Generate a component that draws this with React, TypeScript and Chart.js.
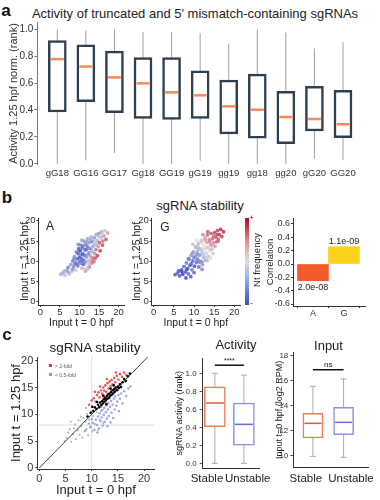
import React, { useEffect, useRef } from 'react';
import { Chart, registerables } from 'chart.js';
Chart.register(...registerables);

const FONT = "'Liberation Sans', Arial, Helvetica, sans-serif";
Chart.defaults.font.family = FONT;
Chart.defaults.color = '#333';

// ---------- Panel a: truncated / mismatch sgRNA activity ----------
const A_CATS = ['gG18', 'GG16', 'GG17', 'Gg18', 'GG19', 'gG19', 'gg19', 'gg18', 'gg20', 'gG20', 'GG20'];
const A_MIN = [0, 0.025, 0.08, 0, 0, 0.022, 0, 0, 0, 0.037, 0.03];
const A_Q1 = [0.385, 0.462, 0.38, 0.338, 0.33, 0.338, 0.222, 0.19, 0.15, 0.244, 0.195];
const A_MED = [0.778, 0.723, 0.642, 0.598, 0.531, 0.509, 0.427, 0.402, 0.348, 0.333, 0.294];
const A_Q3 = [0.916, 0.884, 0.837, 0.79, 0.79, 0.69, 0.622, 0.667, 0.538, 0.575, 0.546];
const A_MAX = [1.0, 0.993, 1.0, 0.978, 0.978, 0.97, 0.894, 1.0, 0.975, 0.857, 0.904];

// ---------- Panel b: scatter [input t=0, input t=1.25, nt-frequency score] ----------
const SCATTER_A: number[][] = [
  [5.2, 6.8, -0.3], [5.8, 7.2, -0.4], [6.3, 6.5, -0.2], [6.8, 7.8, -0.5], [7.1, 8.5, -0.6], [7.4, 6.9, -0.3],
  [7.8, 9.2, -0.5], [8.0, 7.5, -0.2], [8.3, 10.1, -0.7], [8.5, 8.6, -0.6], [8.7, 11.2, -0.5], [8.9, 9.4, -0.8],
  [9.1, 7.8, 0.1], [9.2, 12.3, -0.6], [9.4, 10.6, -0.9], [9.6, 8.9, -0.7], [9.8, 13.1, -0.9], [9.9, 11.6, -0.5],
  [10.1, 9.9, -0.85], [10.2, 12.6, -1.0], [10.3, 14.0, -0.6], [10.5, 10.8, -0.7], [10.6, 8.3, 0.2], [10.7, 13.3, -0.8],
  [10.9, 11.9, -0.6], [11.0, 9.3, -0.9], [11.1, 15.0, -0.5], [11.2, 10.4, -0.4], [11.4, 12.8, -0.7], [11.5, 7.6, 0.3],
  [11.6, 14.2, -0.6], [11.8, 11.1, -0.5], [11.9, 9.0, 0.0], [12.0, 13.6, -0.7], [12.1, 15.6, -0.4], [12.3, 10.2, -0.3],
  [12.4, 12.1, -0.6], [12.5, 8.5, 0.4], [12.6, 14.6, -0.5], [12.8, 11.4, -0.2], [12.9, 13.1, -0.6], [13.0, 16.0, -0.3],
  [13.1, 9.6, 0.5], [13.3, 12.4, -0.3], [13.4, 14.9, -0.7], [13.5, 10.8, 0.6], [13.6, 13.8, -0.4], [13.8, 15.8, -0.5],
  [13.9, 11.9, 0.4], [14.0, 14.3, -0.2], [14.2, 12.9, 0.5], [14.3, 16.6, -0.4], [14.5, 15.1, -0.3], [14.6, 11.4, 0.7],
  [14.8, 13.6, 0.3], [15.0, 16.9, -0.5], [15.1, 14.6, 0.6], [15.3, 12.6, 0.8], [15.5, 15.8, 0.2], [15.7, 17.3, -0.3],
  [15.9, 14.0, 0.7], [16.2, 16.3, 0.4], [16.5, 17.6, 0.1], [16.8, 15.4, 0.6], [17.2, 17.0, 0.3], [11.3, 8.1, -0.1],
  [10.4, 9.5, -0.6], [12.7, 9.3, 0.2], [9.0, 10.2, -0.4], [13.7, 9.9, 0.5],
  [9.6, 12.0, -0.8], [10.0, 10.9, -0.9], [10.8, 10.2, -0.8], [11.3, 11.5, -0.7], [11.7, 12.9, -0.8], [12.2, 11.7, -0.5],
  [12.5, 13.2, -0.6], [10.9, 13.8, -0.7], [11.9, 14.8, -0.5], [12.8, 15.3, -0.4], [13.2, 13.5, -0.3], [13.9, 14.9, -0.1],
  [14.4, 14.0, 0.2], [13.0, 11.0, 0.3], [12.1, 9.8, 0.1], [11.4, 9.8, -0.6], [10.7, 11.7, -0.9], [9.3, 9.4, -0.7],
  [8.2, 8.0, -0.5], [7.0, 7.4, -0.4], [6.2, 7.6, -0.3], [9.7, 14.2, -0.6], [10.6, 15.2, -0.4], [14.9, 16.2, -0.2],
  [15.8, 16.6, 0.1], [16.0, 15.0, 0.5], [14.1, 10.8, 0.6], [13.3, 10.2, 0.4], [12.0, 8.0, 0.2], [8.6, 10.6, -0.6],
];
const SCATTER_G: number[][] = [
  [5.3, 6.7, -0.9], [5.9, 7.1, -0.8], [6.4, 6.4, -0.9], [6.9, 7.9, -0.9], [7.2, 6.8, -1.0], [7.5, 8.7, -0.8],
  [7.9, 7.4, -0.9], [8.1, 9.6, -0.7], [8.4, 8.2, -1.0], [8.6, 6.9, -0.8], [8.8, 10.5, -0.6], [9.0, 9.0, -0.9],
  [9.3, 11.4, -0.5], [9.5, 7.9, -0.7], [9.7, 10.1, -0.8], [9.9, 12.4, -0.4], [10.1, 8.8, -0.9], [10.3, 11.2, -0.6],
  [10.4, 13.5, -0.3], [10.6, 9.7, -0.7], [10.8, 12.2, -0.4], [10.9, 10.5, -0.6], [11.1, 14.4, -0.2], [11.2, 8.6, -0.8],
  [11.4, 11.6, -0.4], [11.5, 13.1, -0.2], [11.7, 10.0, -0.6], [11.8, 15.2, 0.1], [12.0, 12.3, -0.2], [12.1, 9.2, -0.5],
  [12.3, 14.0, 0.0], [12.4, 11.0, -0.3], [12.6, 13.0, -0.1], [12.7, 15.8, 0.3], [12.9, 10.3, -0.4], [13.0, 12.0, -0.1],
  [13.2, 14.7, 0.3], [13.3, 16.5, 0.5], [13.5, 13.3, 0.1], [13.6, 11.2, -0.2], [13.8, 15.4, 0.4], [13.9, 12.6, 0.0],
  [14.1, 14.1, 0.3], [14.2, 16.9, 0.6], [14.4, 13.0, 0.2], [14.6, 15.6, 0.5], [14.7, 11.9, 0.1], [14.9, 14.6, 0.4],
  [15.1, 17.1, 0.7], [15.2, 13.7, 0.3], [15.4, 16.0, 0.6], [15.6, 14.8, 0.5], [15.8, 17.6, 0.7], [16.0, 15.5, 0.6],
  [16.3, 16.6, 0.7], [16.6, 17.9, 0.8], [16.9, 16.1, 0.7], [17.3, 17.3, 0.8], [9.2, 6.2, -0.9], [8.0, 5.9, -1.0],
  [10.0, 7.2, -0.8], [12.2, 16.6, 0.4], [11.0, 13.0, -0.3], [13.4, 17.3, 0.6],
  [9.6, 12.0, -0.5], [10.0, 10.9, -0.6], [10.8, 10.2, -0.6], [11.3, 11.5, -0.4], [11.7, 12.9, -0.2], [12.2, 11.7, -0.2],
  [12.5, 13.2, 0.0], [10.9, 13.8, -0.2], [11.9, 14.8, 0.1], [12.8, 15.3, 0.3], [13.2, 13.5, 0.1], [13.9, 14.9, 0.4],
  [14.4, 14.0, 0.3], [13.0, 11.0, -0.1], [12.1, 9.8, -0.4], [11.4, 9.8, -0.6], [10.7, 11.7, -0.5], [9.3, 9.4, -0.8],
  [8.2, 8.0, -0.9], [7.0, 7.4, -1.0], [6.2, 7.6, -0.9], [9.7, 14.2, -0.2], [10.6, 15.2, 0.0], [14.9, 16.2, 0.5],
  [15.8, 16.6, 0.7], [16.0, 15.0, 0.5], [14.1, 10.8, 0.0], [13.3, 10.2, -0.2], [12.0, 8.0, -0.6], [8.6, 10.6, -0.7],
];
const B_CATS = ['A', 'G'];
const B_CORR = [-0.25, 0.26];
const B_PVALS = ['2.0e-08', '1.1e-09'];

// ---------- Panel c: stability scatter ----------
const C_BLACK: number[][] = [
  [9.2, 9.6], [9.8, 10.3], [10.3, 10.6], [10.6, 11.3], [10.9, 11.0], [11.2, 11.8], [11.4, 11.3], [11.6, 12.2],
  [11.8, 11.7], [12.0, 12.5], [12.1, 12.0], [12.3, 12.8], [12.4, 12.3], [12.6, 13.1], [12.7, 12.6], [12.9, 13.4],
  [13.0, 12.9], [13.1, 13.7], [13.3, 13.1], [13.4, 13.9], [13.5, 13.4], [13.7, 14.2], [13.8, 13.6], [14.0, 14.5],
  [14.1, 13.9], [14.3, 14.7], [14.4, 14.2], [14.6, 15.0], [14.8, 14.5], [15.0, 15.2], [15.2, 14.9], [15.4, 15.6],
  [15.6, 15.1], [15.9, 16.0], [16.2, 16.6], [16.5, 16.2], [16.9, 17.1], [17.3, 17.6], [11.0, 12.3], [12.2, 13.5],
  [13.6, 14.8], [10.1, 11.4], [12.8, 11.9], [14.2, 15.4],
];
const C_RED: number[][] = [
  [9.5, 11.8], [10.0, 12.6], [10.4, 13.0], [10.8, 12.4], [11.0, 13.6], [11.3, 14.1], [11.5, 13.2], [11.8, 14.5],
  [12.0, 13.9], [12.2, 15.0], [12.4, 14.4], [12.6, 15.4], [12.8, 14.2], [13.0, 15.8], [13.2, 14.8], [13.4, 16.1],
  [13.6, 15.3], [13.8, 16.4], [14.0, 15.6], [14.3, 16.8], [14.5, 16.0], [14.8, 17.2], [15.1, 16.5], [15.4, 17.5],
  [15.8, 17.0], [16.2, 17.8], [16.6, 17.4], [11.6, 15.2], [12.9, 16.6], [10.6, 14.2], [14.6, 17.8], [12.3, 13.3],
];
const C_BLUE: number[][] = [
  [9.8, 7.6], [10.2, 8.4], [10.5, 7.1], [10.8, 9.0], [11.0, 8.0], [11.2, 9.6], [11.4, 7.4], [11.5, 10.2],
  [11.7, 8.7], [11.9, 9.4], [12.0, 10.8], [12.1, 7.9], [12.3, 9.9], [12.4, 11.2], [12.5, 8.6], [12.7, 10.4],
  [12.8, 11.7], [12.9, 9.2], [13.0, 7.8], [13.1, 10.9], [13.2, 12.1], [13.3, 9.7], [13.5, 11.4], [13.6, 8.5],
  [13.7, 12.5], [13.8, 10.3], [14.0, 11.8], [14.1, 9.3], [14.2, 12.9], [14.4, 10.9], [14.5, 13.3], [14.7, 11.6],
  [14.9, 12.4], [15.1, 13.6], [15.2, 10.6], [15.4, 12.9], [15.6, 13.9], [15.9, 12.0], [16.2, 14.3], [16.6, 13.4],
  [17.0, 14.8], [17.4, 15.2], [10.0, 9.1], [9.5, 8.3], [11.8, 11.4], [13.4, 13.0], [8.8, 7.0], [12.6, 13.0],
  [15.0, 14.5], [11.1, 6.6],
];
const C_GRAY: number[][] = [
  [5.2, 5.6], [5.8, 7.2], [6.1, 4.9], [6.4, 6.3], [6.8, 8.1], [7.0, 5.4], [7.3, 7.0], [7.5, 8.9], [7.7, 6.2],
  [8.0, 7.8], [8.2, 5.7], [8.4, 9.3], [8.6, 6.8], [8.8, 8.6], [9.0, 7.3], [9.1, 10.1], [9.3, 6.1], [9.5, 9.0],
  [9.7, 7.7], [9.9, 10.5], [10.1, 6.8], [10.3, 9.7], [10.6, 8.2], [10.9, 10.4], [11.2, 7.1], [11.5, 9.0],
  [11.8, 10.6], [7.9, 9.6], [6.6, 7.4], [8.9, 11.2], [5.5, 6.6], [12.2, 8.4], [4.8, 5.0], [6.0, 8.6],
];
const C_DIAG = [0, 22];
const C_REF_X = 10;
const C_REF_Y = 8;
const C_LEGEND = ['> 2-fold', '< 0.5-fold'];

// ---------- Panel c: box plots ----------
const GROUPS = ['Stable', 'Unstable'];
const ACT_MIN = [0.0, 0.0];
const ACT_Q1 = [0.407, 0.203];
const ACT_MED = [0.67, 0.433];
const ACT_Q3 = [0.851, 0.67];
const ACT_MAX = [1.0, 0.98];
const ACT_SIG = { value: 1.09, text: '****' };
const INP_MIN = [9.95, 9.87];
const INP_Q1 = [11.42, 11.68];
const INP_MED = [12.59, 12.67];
const INP_Q3 = [13.39, 13.87];
const INP_MAX = [15.55, 16.14];
const INP_SIG = { value: 16.88, text: 'ns' };

// ---------- helpers ----------
function coolwarm(v: number, a: number) {
  const lo = [59, 76, 192], mid = [221, 221, 221], hi = [180, 4, 38];
  const t = Math.max(-1, Math.min(1, v));
  const to = t < 0 ? lo : hi;
  const k = Math.abs(t);
  const c = mid.map((f, i) => Math.round(f + (to[i] - f) * k));
  return `rgba(${c[0]},${c[1]},${c[2]},${a})`;
}

const boxPlugin = {
  id: 'boxStats',
  beforeDatasetsDraw(chart: any) {
    const ds: any = chart.data.datasets[0];
    if (!ds || !ds.stats) return;
    const st = ds.stats;
    const meta = chart.getDatasetMeta(0);
    const ys = chart.scales.y;
    const ctx = chart.ctx;
    ctx.save();
    ctx.strokeStyle = st.whiskerColor;
    ctx.lineWidth = st.whiskerWidth;
    meta.data.forEach((bar: any, i: number) => {
      const x = bar.x;
      const y0 = ys.getPixelForValue(st.min[i]);
      const y1 = ys.getPixelForValue(st.max[i]);
      ctx.beginPath();
      ctx.moveTo(x, y0);
      ctx.lineTo(x, y1);
      if (st.capWidth) {
        ctx.moveTo(x - st.capWidth / 2, y0);
        ctx.lineTo(x + st.capWidth / 2, y0);
        ctx.moveTo(x - st.capWidth / 2, y1);
        ctx.lineTo(x + st.capWidth / 2, y1);
      }
      ctx.stroke();
    });
    ctx.restore();
  },
  afterDatasetsDraw(chart: any) {
    const ds: any = chart.data.datasets[0];
    if (!ds || !ds.stats) return;
    const st = ds.stats;
    const meta = chart.getDatasetMeta(0);
    const ys = chart.scales.y;
    const ctx = chart.ctx;
    ctx.save();
    meta.data.forEach((bar: any, i: number) => {
      const y = ys.getPixelForValue(st.med[i]);
      const inset = ds.borderWidth;
      ctx.strokeStyle = Array.isArray(st.medianColor) ? st.medianColor[i] : st.medianColor;
      ctx.lineWidth = st.medianWidth;
      ctx.beginPath();
      ctx.moveTo(bar.x - bar.width / 2 + inset, y);
      ctx.lineTo(bar.x + bar.width / 2 - inset, y);
      ctx.stroke();
    });
    if (st.sig && meta.data.length > 1) {
      const y = ys.getPixelForValue(st.sig.value);
      const x0 = meta.data[0].x, x1 = meta.data[1].x;
      ctx.strokeStyle = '#111';
      ctx.lineWidth = 1.5;
      ctx.beginPath();
      ctx.moveTo(x0, y);
      ctx.lineTo(x1, y);
      ctx.stroke();
      ctx.fillStyle = '#222';
      ctx.font = `${st.sigSize}px ${FONT}`;
      ctx.textAlign = 'center';
      ctx.textBaseline = 'bottom';
      ctx.fillText(st.sig.text, (x0 + x1) / 2, y - 1);
    }
    ctx.restore();
  },
};

const barLabelPlugin = {
  id: 'barLabels',
  afterDatasetsDraw(chart: any) {
    const ds: any = chart.data.datasets[0];
    if (!ds || !ds.valueLabels) return;
    const meta = chart.getDatasetMeta(0);
    const ctx = chart.ctx;
    ctx.save();
    ctx.font = `9px ${FONT}`;
    ctx.fillStyle = '#222';
    ctx.textAlign = 'center';
    meta.data.forEach((bar: any, i: number) => {
      const v = B_CORR[i];
      if (v < 0) {
        ctx.textBaseline = 'top';
        ctx.fillText(ds.valueLabels[i], bar.x, bar.y + 2);
      } else {
        ctx.textBaseline = 'bottom';
        ctx.fillText(ds.valueLabels[i], bar.x, bar.y - 1);
      }
    });
    ctx.restore();
  },
};

const tickGrid = (len: number, color = '#333') => ({
  display: true,
  drawOnChartArea: false,
  drawTicks: true,
  tickLength: len,
  color,
});

// ---------- chart configs ----------
function configA(): any {
  return {
    type: 'bar',
    data: {
      datasets: [
        {
          data: A_Q1.map((q1, i) => ({ x: i, y: [q1, A_Q3[i]] })),
          backgroundColor: '#ffffff',
          borderColor: '#2e3f52',
          borderWidth: 2.5,
          borderSkipped: false,
          barThickness: 18,
          stats: {
            min: A_MIN, max: A_MAX, med: A_MED,
            whiskerColor: '#a0a0a0', whiskerWidth: 1, capWidth: 0,
            medianColor: '#f28a5c', medianWidth: 2.5,
          },
        },
      ],
    },
    options: {
      animation: false,
      responsive: false,
      layout: { padding: { left: 0, right: 17, top: 22.5, bottom: 0 } },
      plugins: { legend: { display: false }, tooltip: { enabled: false } },
      scales: {
        x: {
          type: 'linear',
          offset: false,
          min: -0.7,
          max: 10.7,
          afterBuildTicks: (s: any) => { s.ticks = A_CATS.map((_, i) => ({ value: i })); },
          ticks: { callback: (_v: any, i: number) => A_CATS[i], font: { size: 9.5 }, color: '#333', padding: 3, autoSkip: false, maxRotation: 0 },
          grid: { display: false, drawTicks: false },
          border: { display: false },
          afterFit: (s: any) => { s.height = 20.5; },
        },
        y: {
          min: -0.005,
          max: 1.05,
          ticks: { stepSize: 0.2, includeBounds: false, callback: (v: any) => Number(v).toFixed(1), font: { size: 10 }, padding: 1, color: '#333' },
          grid: tickGrid(3, '#777'),
          border: { display: true, color: '#777' },
          title: { display: true, text: 'Activity 1.25 hpf norm. (rank)', font: { size: 11 }, color: '#333', padding: { top: 7, bottom: 0 } },
          afterFit: (s: any) => { s.width = 37.3; },
        },
      },
    },
  };
}

function configScatterB(points: number[][], yAxisWidth: number, titlePad: number, padRight: number): any {
  return {
    type: 'scatter',
    data: {
      datasets: [
        {
          data: points.map((p) => ({ x: p[0], y: p[1] })),
          pointBackgroundColor: points.map((p) => coolwarm(p[2], 0.85)),
          pointBorderWidth: 0,
          pointRadius: 1.9,
        },
      ],
    },
    options: {
      animation: false,
      responsive: false,
      layout: { padding: { left: 0, right: padRight, top: 13, bottom: 0 } },
      plugins: { legend: { display: false }, tooltip: { enabled: false } },
      scales: {
        x: {
          type: 'linear', min: -0.5, max: 21.4,
          ticks: { stepSize: 5, includeBounds: false, font: { size: 9.5 }, padding: 0, color: '#333' },
          grid: tickGrid(2),
          border: { display: true, color: '#333' },
          title: { display: true, text: 'Input t = 0 hpf', font: { size: 10.5 }, color: '#222', padding: { top: 0, bottom: 0.5 } },
          afterFit: (s: any) => { s.height = 25; },
        },
        y: {
          type: 'linear', min: -0.8, max: 20.7,
          ticks: { stepSize: 5, includeBounds: false, font: { size: 9.5 }, padding: 1, color: '#333' },
          grid: tickGrid(2),
          border: { display: true, color: '#333' },
          title: { display: true, text: 'Input t = 1.25 hpf', font: { size: 10.5 }, color: '#222', padding: { top: titlePad, bottom: 0 } },
          afterFit: (s: any) => { s.width = yAxisWidth; },
        },
      },
    },
  };
}

function configBarB(): any {
  return {
    type: 'bar',
    data: {
      datasets: [
        {
          data: B_CORR.map((v, i) => ({ x: i, y: v })),
          backgroundColor: ['#f25c2a', '#fcd21c'],
          borderWidth: 0,
          barThickness: 31,
          valueLabels: B_PVALS,
        },
      ],
    },
    options: {
      animation: false,
      responsive: false,
      layout: { padding: { left: 0, right: 15, top: 8, bottom: 0 } },
      plugins: { legend: { display: false }, tooltip: { enabled: false } },
      scales: {
        x: {
          type: 'linear', offset: false, min: -0.645, max: 1.68,
          afterBuildTicks: (s: any) => { s.ticks = B_CATS.map((_, i) => ({ value: i })); },
          ticks: { callback: (_v: any, i: number) => B_CATS[i], font: { size: 9 }, padding: 0, color: '#333', autoSkip: false },
          grid: tickGrid(2),
          border: { display: true, color: '#333' },
          afterFit: (s: any) => { s.height = 14; },
        },
        y: {
          min: -0.63, max: 0.69,
          ticks: { stepSize: 0.2, includeBounds: false, callback: (v: any) => Number(v).toFixed(1), font: { size: 9 }, padding: 1, color: '#333' },
          grid: tickGrid(2),
          border: { display: true, color: '#333' },
          title: { display: true, text: 'Correlation', font: { size: 9.5 }, color: '#222', padding: { top: 14.3, bottom: 0 } },
          afterFit: (s: any) => { s.width = 43; },
        },
      },
    },
  };
}

function configScatterC(): any {
  const pts = (arr: number[][]) => arr.map((p) => ({ x: p[0], y: p[1] }));
  return {
    type: 'scatter',
    data: {
      datasets: [
        { data: C_DIAG.map((v) => ({ x: v, y: v })), showLine: true, borderColor: '#111', borderWidth: 0.8, pointRadius: 0 },
        { data: pts(C_BLACK), pointBackgroundColor: '#000', pointBorderWidth: 0, pointRadius: 1.3 },
        { data: pts(C_RED), pointBackgroundColor: 'rgba(228,60,60,0.85)', pointBorderWidth: 0, pointRadius: 1.3 },
        { data: pts(C_BLUE), pointBackgroundColor: 'rgba(140,150,228,0.8)', pointBorderWidth: 0, pointRadius: 1.3 },
        { data: pts(C_GRAY), pointBackgroundColor: 'rgba(140,140,140,0.7)', pointBorderWidth: 0, pointRadius: 1 },
        { data: [{ x: C_REF_X, y: -0.2 }, { x: C_REF_X, y: 20.7 }], showLine: true, borderColor: '#dddddd', borderWidth: 1, pointRadius: 0 },
        { data: [{ x: -0.4, y: C_REF_Y }, { x: 22, y: C_REF_Y }], showLine: true, borderColor: '#dddddd', borderWidth: 1, pointRadius: 0 },
      ],
    },
    options: {
      animation: false,
      responsive: false,
      layout: { padding: { left: 0, right: 20.5, top: 17, bottom: 0 } },
      plugins: { legend: { display: false }, tooltip: { enabled: false } },
      scales: {
        x: {
          type: 'linear', min: -0.4, max: 22,
          ticks: { stepSize: 5, includeBounds: false, font: { size: 11 }, padding: 1, color: '#333' },
          grid: tickGrid(2),
          border: { display: true, color: '#333' },
          title: { display: true, text: 'Input t = 0 hpf', font: { size: 13 }, color: '#222', padding: { top: 0, bottom: 2.2 } },
          afterFit: (s: any) => { s.height = 31; },
        },
        y: {
          type: 'linear', min: -0.2, max: 20.7,
          ticks: { stepSize: 5, includeBounds: false, font: { size: 11 }, padding: 2, color: '#333' },
          grid: tickGrid(2),
          border: { display: true, color: '#333' },
          title: { display: true, text: 'Input t = 1.25 hpf', font: { size: 13 }, color: '#222', padding: { top: 8.9, bottom: 0 } },
          afterFit: (s: any) => { s.width = 37.3; },
        },
      },
    },
  };
}

function configBox(o: any): any {
  return {
    type: 'bar',
    data: {
      datasets: [
        {
          data: o.q1.map((q1: number, i: number) => ({ x: i, y: [q1, o.q3[i]] })),
          backgroundColor: '#ffffff',
          borderColor: ['#ef7a55', '#8e8fe3'],
          borderWidth: 1.5,
          borderSkipped: false,
          barThickness: o.barWidth,
          stats: {
            min: o.min, max: o.max, med: o.med,
            whiskerColor: '#aaaaaa', whiskerWidth: 1, capWidth: 6,
            medianColor: ['#d9583a', '#6b6bd0'], medianWidth: 1.5,
            sig: o.sig, sigSize: o.sigSize,
          },
        },
      ],
    },
    options: {
      animation: false,
      responsive: false,
      layout: { padding: { left: 0, right: o.padRight, top: o.padTop, bottom: 0 } },
      plugins: { legend: { display: false }, tooltip: { enabled: false } },
      scales: {
        x: {
          type: 'linear', offset: false, min: o.xMin, max: o.xMax,
          afterBuildTicks: (s: any) => { s.ticks = o.labelAt.map((v: number) => ({ value: v })); },
          ticks: { callback: (_v: any, i: number) => GROUPS[i], font: { size: 11.5 }, padding: 4, color: '#222', autoSkip: false, maxRotation: 0 },
          grid: { display: false, drawTicks: false },
          border: { display: true, color: '#333' },
          afterFit: (s: any) => { s.height = o.xHeight; },
        },
        y: {
          min: o.yMin, max: o.yMax,
          ticks: { stepSize: o.step, includeBounds: false, callback: o.fmt, font: { size: 8 }, padding: o.tickPad, color: '#333' },
          grid: tickGrid(3, '#555'),
          border: { display: true, color: '#333' },
          title: { display: true, text: o.yTitle, font: { size: 9 }, color: '#222', padding: { top: o.titlePad, bottom: 0 } },
          afterFit: (s: any) => { s.width = o.yWidth; },
        },
      },
    },
  };
}

// ---------- components ----------
function ChartBox({ left, top, width, height, make, plugins }: any) {
  const ref = useRef<HTMLCanvasElement>(null);
  useEffect(() => {
    const cfg = make();
    cfg.plugins = plugins || [];
    const chart = new Chart(ref.current as HTMLCanvasElement, cfg);
    return () => chart.destroy();
  }, []);
  return (
    <canvas
      ref={ref}
      width={width}
      height={height}
      style={{ position: 'absolute', left, top, width, height }}
    />
  );
}

function T({ x, y, size, children, bold, rotate, color }: any) {
  return (
    <div
      style={{
        position: 'absolute',
        left: x,
        top: y,
        transform: `translate(-50%, -50%)${rotate ? ' rotate(-90deg)' : ''}`,
        fontSize: size,
        fontWeight: bold ? 700 : 400,
        lineHeight: 1,
        whiteSpace: 'nowrap',
        color: color || '#222',
        fontFamily: FONT,
      }}
    >
      {children}
    </div>
  );
}

export default function App() {
  useEffect(() => {
    document.body.style.margin = '0';
  }, []);
  return (
    <div
      style={{
        position: 'fixed', left: 0, top: 0, width: 380, height: 500,
        background: '#ffffff', overflow: 'hidden', fontFamily: FONT,
      }}
    >
      {/* panel a */}
      <T x={6} y={10} size={17} bold color="#111">a</T>
      <T x={195} y={13} size={13}>Activity of truncated and 5' mismatch-containing sgRNAs</T>
      <ChartBox left={0} top={0} width={380} height={185} make={configA} plugins={[boxPlugin]} />

      {/* panel b */}
      <T x={7} y={197} size={17} bold color="#111">b</T>
      <T x={200} y={205} size={13}>sgRNA stability</T>
      <ChartBox left={0} top={205} width={130} height={125} make={() => configScatterB(SCATTER_A, 38.5, 18.7, 6)} />
      <ChartBox left={114} top={205} width={130} height={125} make={() => configScatterB(SCATTER_G, 37.7, 16.7, 4)} />
      <T x={50} y={226} size={12}>A</T>
      <T x={165} y={227} size={12}>G</T>
      <div
        style={{
          position: 'absolute', left: 245, top: 218, width: 3.5, height: 87,
          background: 'linear-gradient(to bottom, #b40426 0%, #e8a08a 30%, #dddddd 50%, #8fb0f0 70%, #3b4cc0 100%)',
        }}
      />
      <T x={251.5} y={218} size={8}>+</T>
      <T x={251.5} y={303} size={8}>-</T>
      <T x={257} y={260} size={9.5} rotate>Nt frequency</T>
      <ChartBox left={250} top={210} width={130} height={110} make={configBarB} plugins={[barLabelPlugin]} />

      {/* panel c */}
      <T x={7} y={334} size={17} bold color="#111">c</T>
      <T x={95} y={348} size={13.5}>sgRNA stability</T>
      <ChartBox left={0} top={340} width={175} height={160} make={configScatterC} />
      <div style={{ position: 'absolute', left: 49, top: 364, width: 3, height: 3, background: '#e43c3c' }} />
      <div style={{ position: 'absolute', left: 49, top: 373, width: 3, height: 3, background: '#8c96e4' }} />
      <div style={{ position: 'absolute', left: 55, top: 362.5, fontSize: 5, lineHeight: '6px', color: '#555', whiteSpace: 'nowrap' }}>{C_LEGEND[0]}</div>
      <div style={{ position: 'absolute', left: 55, top: 371.5, fontSize: 5, lineHeight: '6px', color: '#555', whiteSpace: 'nowrap' }}>{C_LEGEND[1]}</div>

      <T x={236} y={344} size={13}>Activity</T>
      <ChartBox
        left={160} top={340} width={115} height={150}
        plugins={[boxPlugin]}
        make={() => configBox({
          q1: ACT_Q1, q3: ACT_Q3, min: ACT_MIN, max: ACT_MAX, med: ACT_MED, sig: ACT_SIG, sigSize: 7,
          barWidth: 21, padRight: 3, padTop: 18, xMin: -0.417, xMax: 1.535, labelAt: [-0.27, 1.13],
          xHeight: 21.7, yMin: -0.055, yMax: 1.17, step: 0.2, fmt: (v: any) => Number(v).toFixed(1),
          tickPad: 3, yTitle: 'sgRNA activity (rank)', titlePad: 14.6, yWidth: 42.7,
        })}
      />
      <T x={328.5} y={345} size={13}>Input</T>
      <ChartBox
        left={268} top={340} width={112} height={150}
        plugins={[boxPlugin]}
        make={() => configBox({
          q1: INP_Q1, q3: INP_Q3, min: INP_MIN, max: INP_MAX, med: INP_MED, sig: INP_SIG, sigSize: 8,
          barWidth: 20, padRight: 10, padTop: 12, xMin: -0.64, xMax: 1.82, labelAt: [-0.23, 1.24],
          xHeight: 22.3, yMin: 9.04, yMax: 18.3, step: 2, fmt: (v: any) => String(v),
          tickPad: 2, yTitle: 'Input t=0 hpf (log2 RPM)', titlePad: 6.6, yWidth: 25.3,
        })}
      />
    </div>
  );
}
